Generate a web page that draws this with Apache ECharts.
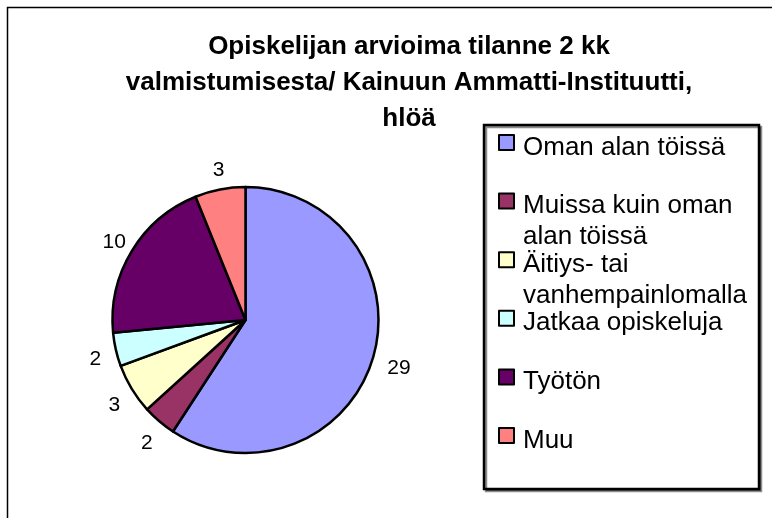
<!DOCTYPE html>
<html>
<head>
<meta charset="utf-8">
<script src="https://cdn.jsdelivr.net/npm/echarts@6/dist/echarts.min.js"></script>
<style>
  html, body { margin: 0; padding: 0; background: #fff; }
  #chart { width: 772px; height: 518px; }
</style>
</head>
<body>
<div id="chart"></div>
<script>
const categories = [
  "Oman alan töissä",
  "Muissa kuin oman alan töissä",
  "Äitiys- tai vanhempainlomalla",
  "Jatkaa opiskeluja",
  "Työtön",
  "Muu",
];
const values = [29, 2, 3, 2, 10, 3];
const legendLabels = [
  "Oman alan töissä",
  "Muissa kuin oman\nalan töissä",
  "Äitiys- tai\nvanhempainlomalla",
  "Jatkaa opiskeluja",
  "Työtön",
  "Muu",
];
const colors = ["#9999FF", "#993366", "#FFFFCC", "#CCFFFF", "#660066", "#FF8080"];
const titleText = "Opiskelijan arvioima tilanne 2 kk\nvalmistumisesta/ Kainuun Ammatti-Instituutti,\nhlöä";

const FONT = "Liberation Sans, Arial, sans-serif";
const chart = echarts.init(document.getElementById("chart"));

const pieData = categories.map((name, i) => ({
  name: name,
  value: values[i],
  itemStyle: { color: colors[i] },
}));

// one legend per entry so the squares keep Excel's even spacing;
// a spacer line (with an invisible box so it counts in the bounds)
// pushes the first text line next to the square
const LH = 31;
const ICON = 15;
const legends = categories.map((name, i) => {
  const lines = legendLabels[i].split("\n");
  const spacer = lines.length === 1 ? 10 : 41;
  const boxTop = ICON / 2 - (lines.length * LH + spacer) / 2;
  const squareCenter = 142.5 + i * 58.6;
  return {
    data: [name],
    left: 498,
    top: squareCenter - ICON / 2 + boxTop,
    padding: 0,
    icon: "rect",
    itemWidth: ICON,
    itemHeight: ICON,
    selectedMode: false,
    itemStyle: { borderColor: "#000", borderWidth: 2 },
    formatter: () => "{s| }\n" + lines.map((l) => "{t|" + l + "}").join("\n"),
    textStyle: {
      fontFamily: FONT,
      fontSize: 26,
      color: "#000",
      rich: {
        s: {
          fontSize: 1,
          lineHeight: spacer,
          height: spacer,
          backgroundColor: "rgba(255,255,255,0)",
        },
        t: { fontFamily: FONT, fontSize: 26, color: "#000", lineHeight: LH, padding: [0, 0, 0, 4] },
      },
    },
  };
});

const option = {
  animation: false,
  backgroundColor: "#fff",
  title: {
    text: titleText,
    left: 409,
    textAlign: "center",
    top: 29,
    padding: 0,
    textStyle: {
      fontFamily: FONT,
      fontSize: 26,
      fontWeight: "bold",
      color: "#000",
      lineHeight: 36,
    },
  },
  legend: legends,
  graphic: [
    {
      type: "rect",
      shape: { x: 7.5, y: 7.5, width: 900, height: 700 },
      style: { fill: "none", stroke: "#000", lineWidth: 1.5 },
      silent: true,
      z: -1,
    },
    {
      type: "rect",
      shape: { x: 484, y: 125, width: 275, height: 364 },
      style: {
        fill: "#fff",
        stroke: "#000",
        lineWidth: 2.5,
        shadowColor: "rgba(0,0,0,0.45)",
        shadowOffsetX: 2,
        shadowOffsetY: 2,
      },
      silent: true,
      z: -1,
    },
  ],
  series: [
    {
      type: "pie",
      center: [245.5, 320],
      radius: 133,
      startAngle: 90,
      clockwise: true,
      avoidLabelOverlap: false,
      itemStyle: { borderColor: "#000", borderWidth: 2.5 },
      label: { show: false },
      labelLine: { show: false },
      emphasis: { disabled: true },
      data: pieData,
    },
    {
      // transparent ring that only carries the value labels
      type: "pie",
      center: [248.5, 324],
      radius: [141, 167],
      startAngle: 90,
      clockwise: true,
      avoidLabelOverlap: false,
      silent: true,
      itemStyle: { color: "rgba(0,0,0,0)", borderWidth: 0 },
      label: {
        show: true,
        position: "inside",
        formatter: "{c}",
        fontFamily: FONT,
        fontSize: 21,
        color: "#000",
      },
      labelLine: { show: false },
      emphasis: { disabled: true },
      data: categories.map((name, i) => ({ name: name, value: values[i] })),
    },
  ],
};

chart.setOption(option);
window.addEventListener("resize", () => chart.resize());
</script>
</body>
</html>
